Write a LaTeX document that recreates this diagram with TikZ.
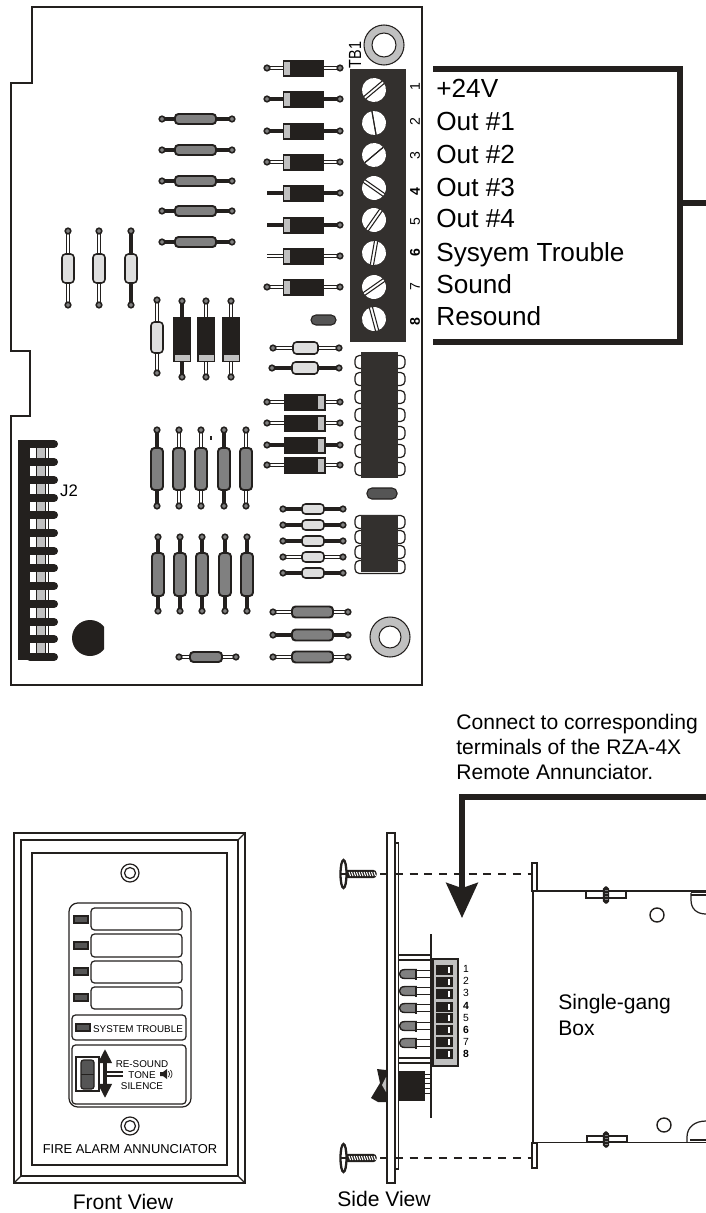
\documentclass[tikz,border=0pt]{standalone}
\usepackage{fontspec}
\setmainfont{Liberation Sans}
\usetikzlibrary{calc,arrows.meta}

\definecolor{ink}{HTML}{23201E}
\definecolor{ringgray}{HTML}{C0C0C0}
\definecolor{midgray}{HTML}{808080}
\definecolor{ledgray}{HTML}{555555}
\definecolor{palegray}{HTML}{DEDEDE}
\definecolor{blockgray}{HTML}{33302E}

\tikzset{
  outline/.style={draw=ink,line width=0.7pt},
  leadb/.style={draw=ink,line width=2.1pt},
  leadw/.style={draw=ink,line width=0.6pt,double=white,double distance=1.1pt},
  pad/.style={draw=ink,fill=midgray,line width=0.9pt},
  nopad/.style={opacity=0},
  graybody/.style={draw=ink,fill=midgray,line width=1.1pt,rounded corners=2pt},
  palebody/.style={draw=ink,fill=palegray,line width=0.9pt,rounded corners=2pt},
  diode/.style={draw=ink,fill=ink,line width=0.5pt},
  band/.style={draw=ink,fill=ringgray,line width=0.4pt},
  pin/.style={draw=ink,fill=white,line width=0.7pt,rounded corners=2.5pt},
  ledbox/.style={draw=ink,fill=ledgray,line width=0.7pt},
  legend/.style={draw=ink,fill=white,line width=0.7pt,rounded corners=2pt},
  wire/.style={draw=ink,line width=3pt},
  guide/.style={draw=ink,line width=0.8pt,dash pattern=on 4.6pt off 3.8pt},
  biglabel/.style={anchor=base west,inner sep=0pt,font=\fontsize{14.9}{16}\selectfont},
  midlabel/.style={anchor=base west,inner sep=0pt,font=\fontsize{12}{14}\selectfont},
  smalllabel/.style={inner sep=0pt,font=\fontsize{5.6}{7}\selectfont},
  tbnumn/.style={inner sep=0pt,rotate=90,font=\fontsize{8}{9}\selectfont},
  tbnumb/.style={inner sep=0pt,rotate=90,font=\fontsize{8}{9}\selectfont\bfseries},
  sidenumn/.style={inner sep=0pt,font=\fontsize{5.9}{7}\selectfont},
  sidenumb/.style={inner sep=0pt,font=\fontsize{5.9}{7}\selectfont\bfseries},
}

\begin{document}
\begin{tikzpicture}[x=0.02cm,y=-0.02cm]

\useasboundingbox (0,0) rectangle (706,1213);

% Pad radius on the board
\def\padr{2.8}

% Horizontal part: left end, right end, body left, body right, y, half height, lead, body style
\def\hres#1#2#3#4#5#6#7#8{
   \draw[lead#7] (#1,#5) -- (#2,#5);
   \draw[pad] (#1,#5) circle (\padr);
   \draw[pad] (#2,#5) circle (\padr);
   \draw[#8] (#3,#5-#6) rectangle (#4,#5+#6);
}
% Vertical part: x, top end, bottom end, body top, body bottom, half width, lead, body style
\def\vres#1#2#3#4#5#6#7#8{
   \draw[lead#7] (#1,#2) -- (#1,#3);
   \draw[pad] (#1,#2) circle (\padr);
   \draw[pad] (#1,#3) circle (\padr);
   \draw[#8] (#1-#6,#4) rectangle (#1+#6,#5);
}

% Board outline
\draw[outline] (32,7) -- (422,7) -- (422,685) -- (11,685) -- (11,416) -- (30,416) -- (30,351) -- (11,351) -- (11,83) -- (32,83) -- cycle;

% Mounting rings
\fill[ringgray,even odd rule,draw=ink,line width=0.6pt] (384,45) circle (20) (384,45) circle (12);
\fill[ringgray,even odd rule,draw=ink,line width=0.6pt] (390,637) circle (20) (390,637) circle (11);

% Terminal block
\fill[blockgray] (350,69) rectangle (406,342);
\node[inner sep=0pt,rotate=90,xscale=0.82,font=\fontsize{10}{11}\selectfont] (tbname) at (355,55) {TB1};

% Screws: y, slot angle, slot offset
\foreach \y/\a/\s in {90/40/1.6,123/100/0,155/40/0,188/-35/1.6,220/55/1.6,253/80/1.6,287/35/1.6,319/105/1.6}{
   \begin{scope}[shift={(374,\y)},rotate=\a]
      \fill[white] (0,0) circle (12);
      \draw[ink,line width=0.6pt] (-12,\s) -- (12,\s);
      \draw[ink,line width=0.6pt] (-12,-\s) -- (12,-\s);
   \end{scope}
}

% Terminal numbers
\foreach \y/\n/\w in {87/1/n,122/2/n,156/3/n,192/4/b,222/5/n,253/6/b,287/7/n,322/8/b}{
   \node[tbnum\w] (tbnum\n) at (415,\y) {\n};
}

% Diodes beside the terminal block
\foreach \y/\la/\lb/\p in {68/w/w/pad,99/b/b/pad,131/b/b/pad,162/w/w/pad,193/b/b/nopad,225/b/b/nopad,256/w/w/nopad,287/w/w/pad}{
   \draw[lead\la] (267,\y) -- (303,\y);
   \draw[lead\lb] (303,\y) -- (340,\y);
   \draw[\p] (267,\y) circle (\padr);
   \draw[pad] (340,\y) circle (\padr);
   \draw[diode] (283,\y-8) rectangle (323,\y+8);
   \draw[band] (283,\y-7) rectangle (290,\y+7);
}

% Gray resistors, upper row
\foreach \y in {119,150,181,211,242}{
   \hres{162}{232}{175}{216}{\y}{5}{b}{graybody}
}

% Pale resistors on the left
\foreach \x/\l in {68/w,99/w,131/b}{
   \vres{\x}{231}{305}{254}{283}{6}{\l}{palebody}
}
\vres{157}{300}{373}{322}{353}{6}{w}{palebody}

% Vertical diodes
\foreach \x/\l in {182/b,206/w,231/w}{
   \draw[lead\l] (\x,301) -- (\x,377);
   \draw[pad] (\x,301) circle (\padr);
   \draw[pad] (\x,377) circle (\padr);
   \draw[diode] (\x-8.5,317) rectangle (\x+8.5,361);
   \draw[band] (\x-8,354) rectangle (\x+8,361);
}

% Small ovals
\draw[ink,fill=ledgray,line width=0.6pt,rounded corners=2.8pt] (311,315) rectangle (336,325);
\draw[ink,fill=ledgray,line width=0.6pt,rounded corners=2.8pt] (367,488) rectangle (397,499);

% Pale resistors under the block
\hres{273}{339}{293}{318}{348}{6}{w}{palebody}
\hres{272}{339}{292}{318}{368}{6}{b}{palebody}

% Diodes with band on the right
\foreach \y/\l in {402/w,423/w,445/b,465/w}{
   \draw[lead\l] (267,\y) -- (342,\y);
   \draw[pad] (267,\y) circle (\padr);
   \draw[pad] (340,\y) circle (\padr);
   \draw[diode] (284,\y-8) rectangle (325,\y+8);
   \draw[band] (317,\y-7) rectangle (324,\y+7);
}

% Long IC
\foreach \y in {362,379,397,415,433,451,469}{
   \draw[pin] (355,\y-6.5) rectangle (405,\y+6.5);
}
\fill[blockgray] (361,352) rectangle (398,478);

% Short IC
\foreach \y in {522,537,552,567}{
   \draw[pin] (355,\y-6.5) rectangle (405,\y+6.5);
}
\fill[blockgray] (361,515) rectangle (398,572);

% Pale resistors beside the short IC
\foreach \y/\l in {509/b,525/b,541/b,557/w,573/b}{
   \hres{283}{343}{302}{324}{\y}{5}{\l}{palebody}
}

% Gray vertical resistors
\foreach \x/\l in {157/b,179/w,201/w,224/b,246/w}{
   \vres{\x}{430}{506}{448}{490}{6}{\l}{graybody}
}
\fill[ink] (210.3,436) rectangle (211.7,440);
\foreach \x in {158,180,202,225,247}{
   \vres{\x}{537}{611}{553}{596}{6}{b}{graybody}
}

% Gray resistors at the bottom
\foreach \y/\l in {612/w,635/b,657/w}{
   \hres{273}{348}{292}{333}{\y}{5.5}{\l}{graybody}
}
\hres{179}{236}{190}{222}{657}{5}{w}{graybody}

% Connector J2
\fill[ringgray] (36,440) rectangle (45,660);
\draw[ink,line width=0.5pt] (36,440) -- (36,660) (45,440) -- (45,660) (48.7,440) -- (48.7,660);
\fill[ink] (18,440) rectangle (30,660);
\foreach \y in {444,462,480,498,515,533,551,568,586,604,622,639,657}{
   \draw[ink,line width=4.6pt,line cap=round] (30,\y) -- (54,\y);
}
\node[inner sep=0pt,font=\fontsize{9.5}{11}\selectfont] (jtwo) at (69,491) {J2};

% Black blob
\begin{scope}
   \clip (60,610) rectangle (104,670);
   \fill[ink] (90,638) circle (18);
\end{scope}

% Legend of terminals
\draw[wire] (433,69) -- (680,69) -- (680,342) -- (433,342);
\draw[wire] (680,203) -- (706,203);
\foreach \y/\t [count=\i] in {98/{+24V},131/{Out \#1},164/{Out \#2},196/{Out \#3},228/{Out \#4},261/{Sysyem Trouble},293/{Sound},325/{Resound}}{
   \node[biglabel] (term\i) at (436,\y) {\t};
}

% Note
\node[midlabel] (noteone) at (456,729) {Connect to corresponding};
\node[midlabel] (notetwo) at (456,754) {terminals of the RZA-4X};
\node[midlabel] (notethree) at (456,779) {Remote Annunciator.};

% Front view, plate
\draw[outline] (14,833) rectangle (245,1183);
\draw[outline] (21,840) rectangle (238,1176);
\draw[outline] (14,1183) -- (21,1176) (245,1183) -- (238,1176) (245,833) -- (238,840);
\draw[outline] (32,853) rectangle (227,1165);
\foreach \y in {873,1126}{
   \draw[ink,line width=0.7pt] (130,\y) circle (9);
   \draw[ink,line width=0.7pt] (130,\y) circle (5.5);
}
\draw[outline,rounded corners=5pt] (69,903) rectangle (191,1107);

% Front view, legend slots
\foreach \ya/\yb/\la/\lb in {908/930/916/923,934/957/942/949,961/983/968/975,987/1009/994/1001}{
   \draw[legend] (91,\ya) rectangle (182,\yb);
   \draw[ledbox] (74,\la) rectangle (88,\lb);
}

% Front view, trouble and switch boxes
\draw[legend] (72,1015) rectangle (186,1040);
\draw[ledbox] (76,1024) rectangle (90,1031);
\node[smalllabel] (trouble) at (138,1029) {SYSTEM TROUBLE};
\draw[legend] (72,1045) rectangle (186,1104);
\draw[ink,line width=0.9pt] (76,1057) rectangle (99,1091);
\draw[ink,fill=ledgray,line width=0.7pt,rounded corners=1.5pt] (81,1060) rectangle (94,1089);
\draw[ink,line width=0.5pt] (81,1074) -- (94,1074);
\coordinate (switchup) at (105,1049);
\coordinate (switchdown) at (105,1098);
\draw[{Triangle[length=8pt,width=7.5pt]}-{Triangle[length=8pt,width=7.5pt]},draw=ink,fill=ink,line width=1.9pt] (switchup) -- (switchdown);
\draw[ink,line width=1.1pt] (104,1072) -- (123,1072) (104,1076) -- (123,1076);
\node[smalllabel] (resound) at (142,1064) {RE-SOUND};
\node[smalllabel] (tone) at (142,1075) {TONE};
\node[smalllabel] (silence) at (142,1086) {SILENCE};

% Speaker
\fill[ink] (160,1072) -- (163,1072) -- (167,1069) -- (167,1079) -- (163,1076) -- (160,1076) -- cycle;
\draw[ink,line width=0.4pt] (168.5,1071) .. controls (170,1073) and (170,1075) .. (168.5,1077);
\draw[ink,line width=0.4pt] (170.5,1070) .. controls (172.5,1073) and (172.5,1075) .. (170.5,1078);

\node[inner sep=0pt,font=\fontsize{7.34}{9}\selectfont] (annunc) at (130,1149) {FIRE ALARM ANNUNCIATOR};
\node[inner sep=0pt,font=\fontsize{12}{14}\selectfont] (frontview) at (123,1202) {Front View};

% Side view, plates
\draw[ink,line width=0.9pt,fill=white] (387,833) rectangle (395,1183);
\draw[ink,line width=0.9pt,fill=white] (395,843) rectangle (398.5,1169);

% Side view, mounting screws
\foreach \y in {874,1158}{
   \draw[ink,fill=ink,line width=0.6pt,rounded corners=1.5pt] (345,\y-3.5) rectangle (376,\y+3.5);
   \draw[ink,fill=white,line width=1.3pt] (343.5,\y) ellipse (3 and 14);
   \draw[ink,line width=0.6pt] (341,\y) -- (346,\y);
   \foreach \x in {349,351.5,...,374}{
      \draw[white,line width=0.6pt] (\x,\y-2) -- (\x+1.5,\y+2);
   }
   \draw[guide] (380,\y) -- (532,\y);
}

% Side view, inner board with standoffs
\draw[ink,line width=1.7pt] (431,934) -- (431,1118);
\foreach \y in {955,960,1058,1063}{
   \draw[ink,line width=0.7pt] (399,\y) -- (430,\y);
}

% Side view, LEDs
\foreach \y in {974,991,1008,1026,1043}{
   \draw[ink,line width=0.5pt] (416,\y-3.5) -- (430,\y-3.5) (416,\y+3.5) -- (430,\y+3.5);
   \draw[ink,fill=midgray,line width=0.8pt] (416,\y-4.5) -- (405,\y-4.5) .. controls (401,\y-4.5) and (399.5,\y-2) .. (399.5,\y) .. controls (399.5,\y+2) and (401,\y+4.5) .. (405,\y+4.5) -- (416,\y+4.5) -- cycle;
   \draw[ink,line width=1.5pt] (416,\y-5.5) -- (416,\y+5.5);
}

% Side view, terminal block
\draw[ink,fill=ringgray,line width=0.8pt] (433,959) rectangle (458,1066);
\foreach \y in {970,982,994,1007,1018,1030,1042,1054}{
   \fill[ink] (436,\y-5) rectangle (453,\y+5);
   \draw[white,line width=0.6pt] (449,\y-3) -- (449,\y+3);
}
\foreach \y/\n/\w in {969/1/n,981/2/n,993/3/n,1006/4/b,1018/5/n,1030/6/b,1042/7/n,1054/8/b}{
   \node[sidenum\w] (sidenum\n) at (466,\y) {\n};
}

% Side view, toggle switch
\fill[ink] (398,1071) rectangle (425,1101);
\foreach \y in {1074,1078,1083,1088,1093}{
   \draw[ink,line width=0.5pt] (425,\y) -- (430,\y);
}
\fill[ink] (377,1069) -- (386,1070) -- (386,1102) -- (378,1102) -- (371,1098) -- (380,1083) -- cycle;
\fill[ringgray] (382,1085) -- (386,1077) -- (386,1092) -- cycle;

\node[inner sep=0pt,font=\fontsize{12}{14}\selectfont] (sideview) at (384,1199) {Side View};

% Wire to the connector
\coordinate (wirestart) at (706,797);
\coordinate (wirecorner) at (462,797);
\coordinate (wireend) at (462,918);
\draw[wire,-{Stealth[length=20pt,width=18pt,inset=3pt]}] (wirestart) -- (wirecorner) -- (wireend);

% Single-gang box
\draw[outline,fill=white] (532,863) rectangle (537,891);
\draw[outline,fill=white] (532,1143) rectangle (537,1168);
\draw[ink,line width=1.4pt] (533,891) -- (533,1143);
\draw[ink,line width=0.9pt] (533,891) -- (706,891) (533,1142.5) -- (706,1142.5);
\draw[outline,fill=white] (586,891) rectangle (626,898);
\draw[outline,fill=white] (587,1136) rectangle (627,1142);
\foreach \ya/\yb in {887/903,1132/1147}{
   \draw[ink,fill=ink,line width=0.6pt,rounded corners=1pt] (603.5,\ya) rectangle (608.5,\yb);
   \foreach \yc in {\ya+3,\ya+6,\ya+9,\ya+12}{
      \draw[midgray,line width=0.4pt] (604.5,\yc) -- (607.5,\yc);
   }
}
\draw[ink,line width=0.8pt] (657,915) circle (7);
\draw[ink,line width=0.8pt] (664,1125) circle (7);
\draw[ink,line width=0.7pt] (691,893) -- (691,900) .. controls (691,909) and (697,914) .. (706,914);
\draw[ink,line width=0.7pt] (691,892.5) -- (706,892.5) (691,895) -- (706,895);
\draw[ink,line width=0.7pt] (687,1142) -- (687,1137) .. controls (687,1127) and (695,1121) .. (706,1121);
\draw[ink,line width=0.7pt] (690,1140) -- (706,1140);
\node[midlabel] (boxone) at (558,1009) {Single-gang};
\node[midlabel] (boxtwo) at (558,1035) {Box};

\end{tikzpicture}
\end{document}
